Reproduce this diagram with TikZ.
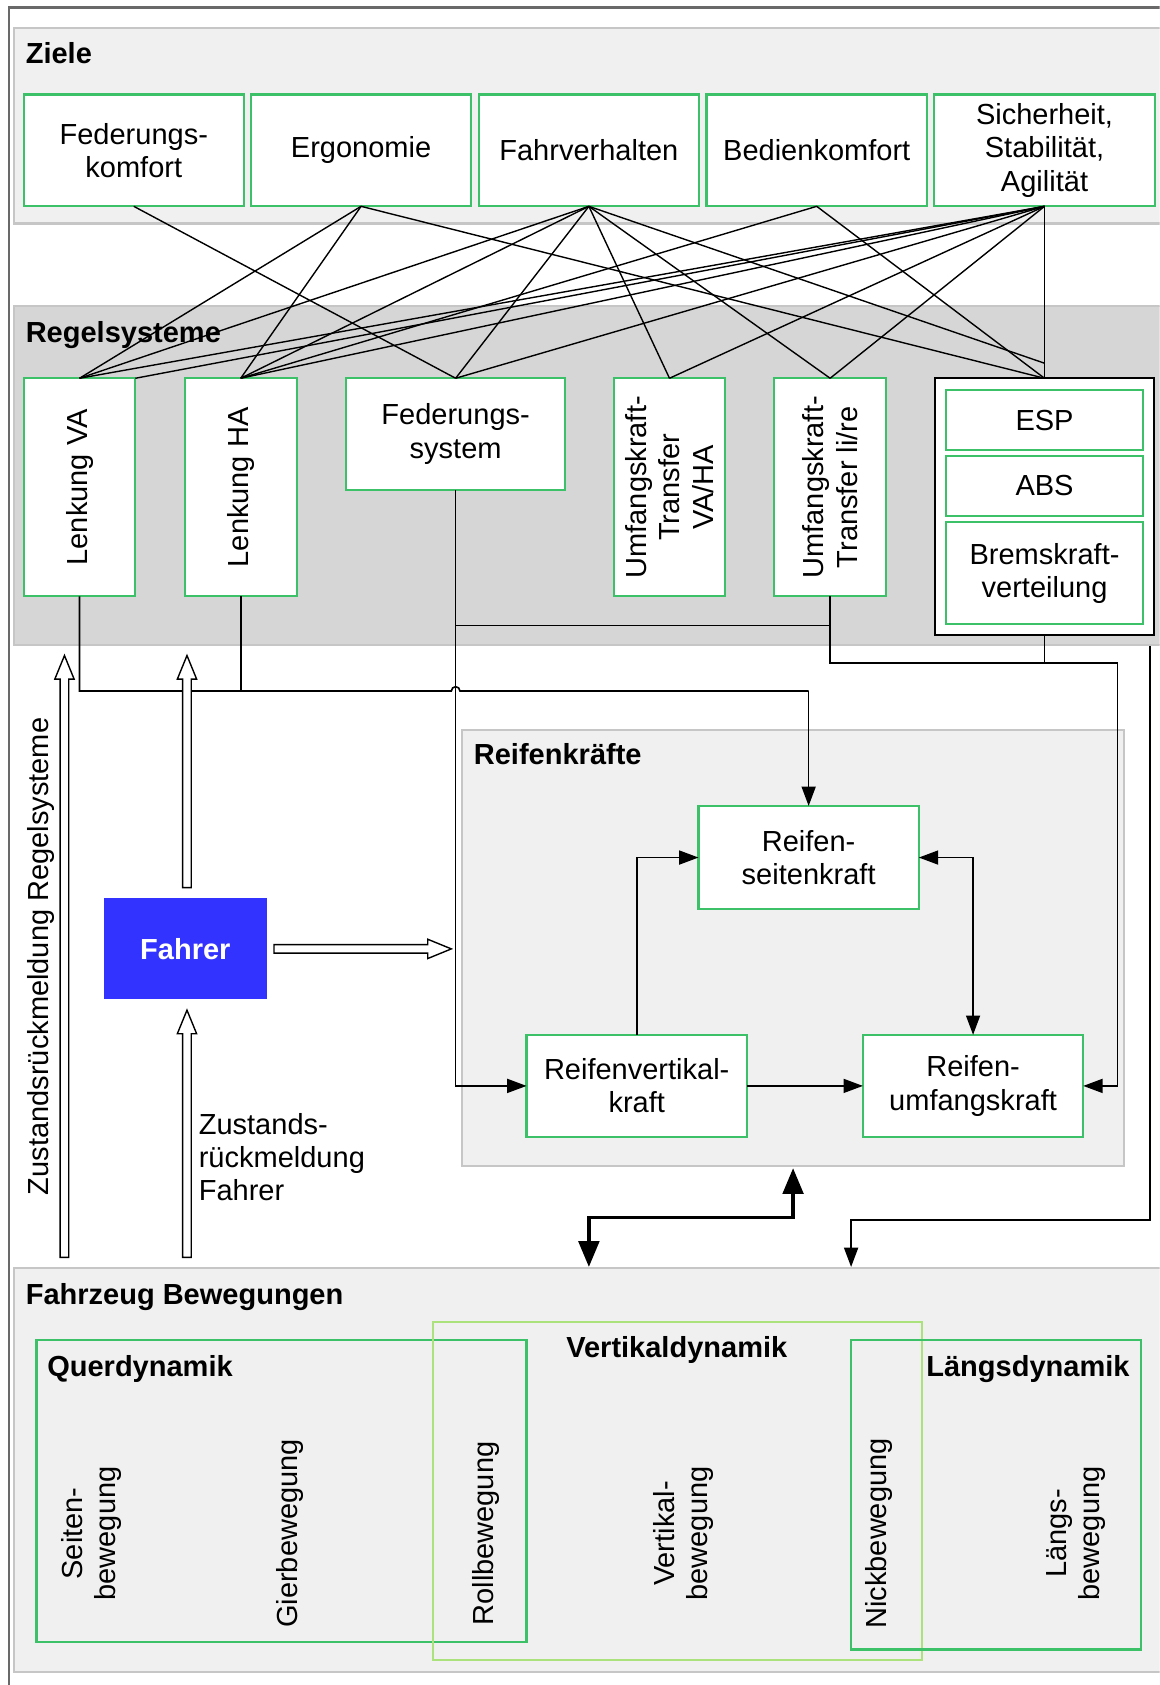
\documentclass[tikz,border=0pt]{standalone}
\usepackage{fontspec}
\setmainfont{Liberation Sans}
\usetikzlibrary{calc,arrows.meta}

\definecolor{boxgreen}{RGB}{60,192,104}
\definecolor{lightgreen}{RGB}{172,226,124}
\definecolor{panelfill}{RGB}{240,240,240}
\definecolor{panelfilldark}{RGB}{214,214,214}
\definecolor{panelline}{RGB}{198,198,198}
\definecolor{framegray}{RGB}{105,105,105}
\definecolor{fahrerblue}{RGB}{51,51,255}

\begin{document}
\begin{tikzpicture}[x=1pt,y=-1pt,
  every node/.style={inner sep=0pt, outer sep=0pt},
  font=\fontsize{27}{31}\selectfont,
  panel/.style={draw=panelline, line width=2pt, fill=panelfill, anchor=north west},
  box/.style={draw=boxgreen, line width=2pt, fill=white, align=center},
  lbl/.style={font=\fontsize{27}{31}\selectfont\bfseries, anchor=base west},
  rot/.style={rotate=90, align=center},
  web/.style={line width=1.3pt, black},
  conn/.style={line width=1.5pt, black},
  arr/.style={conn, -{Triangle[length=18pt,width=13pt]}},
  arrboth/.style={conn, {Triangle[length=18pt,width=13pt]}-{Triangle[length=18pt,width=13pt]}},
  thickarr/.style={line width=3.5pt, {Triangle[length=24pt,width=19pt]}-{Triangle[length=24pt,width=19pt]}},
  hollow/.style={draw=black, line width=1.3pt, fill=white, line join=miter,
    to path={($(\tikztostart)!4pt!90:(\tikztotarget)$)
      -- ($($(\tikztotarget)!22pt!(\tikztostart)$)!4pt!90:(\tikztotarget)$)
      -- ($($(\tikztotarget)!22pt!(\tikztostart)$)!9pt!90:(\tikztotarget)$)
      -- (\tikztotarget)
      -- ($($(\tikztotarget)!22pt!(\tikztostart)$)!9pt!-90:(\tikztotarget)$)
      -- ($($(\tikztotarget)!22pt!(\tikztostart)$)!4pt!-90:(\tikztotarget)$)
      -- ($(\tikztostart)!4pt!-90:(\tikztotarget)$) -- cycle}}
]
\clip (0,0) rectangle (1079,1568);
\fill[white] (0,0) rectangle (1079,1568);

% outer frame (left and top edges)
\draw[framegray, line width=2pt] (8,1575) -- (8,7) -- (1090,7);

% ---------- panels ----------
\node[panel, minimum width=1085pt, minimum height=182pt] (ziele) at (13,26) {};
\node[panel, fill=panelfilldark, minimum width=1085pt, minimum height=315pt] (regs) at (13,285) {};
\node[panel, minimum width=616pt, minimum height=406pt] (rk) at (430,679) {};
\node[panel, minimum width=1085pt, minimum height=376pt] (fb) at (13,1180) {};

\node[lbl] (zieleT) at (24,59) {Ziele};
\node[lbl] (regsT) at (24,319) {Regelsysteme};
\node[lbl] (rkT) at (441,711) {Reifenkräfte};
\node[lbl] (fbT) at (24,1214) {Fahrzeug Bewegungen};

% ---------- goals ----------
\node[box, minimum width=205pt, minimum height=104pt] (g1) at (124.5,140) {Federungs-\\komfort};
\node[box, minimum width=205pt, minimum height=104pt] (g2) at (336,140) {Ergonomie};
\node[box, minimum width=205pt, minimum height=104pt] (g3) at (548,140) {Fahrverhalten};
\node[box, minimum width=205pt, minimum height=104pt] (g4) at (760,140) {Bedienkomfort};
\node[box, minimum width=205pt, minimum height=104pt] (g5) at (972,140) {Sicherheit,\\Stabilität,\\Agilität};

% ---------- control systems ----------
\node[box, minimum width=104pt, minimum height=203pt] (lva) at (74,453.5) {};
\node[rot] (lvaT) at (lva) {Lenkung VA};
\node[box, minimum width=104pt, minimum height=203pt] (lha) at (224,453.5) {};
\node[rot] (lhaT) at (lha) {Lenkung HA};
\node[box, minimum width=204pt, minimum height=104pt] (fs) at (424,404) {Federungs-\\system};
\node[box, minimum width=104pt, minimum height=203pt] (utva) at (623,453.5) {};
\node[rot] (utvaT) at (utva) {Umfangskraft-\\Transfer\\VA/HA};
\node[box, minimum width=104pt, minimum height=203pt] (utli) at (772.5,453.5) {};
\node[rot] (utliT) at (utli) {Umfangskraft-\\Transfer li/re};
\node[box, draw=black, minimum width=204pt, minimum height=239pt] (ct) at (972,471.5) {};
\node[box, minimum width=184pt, minimum height=56pt] (esp) at (972,391) {ESP};
\node[box, minimum width=184pt, minimum height=56pt] (abs) at (972,452) {ABS};
\node[box, minimum width=184pt, minimum height=95pt] (bkv) at (972,533.5) {Bremskraft-\\verteilung};

% ---------- goal / system relations ----------
\coordinate (cv) at (972,338);
\foreach \a/\b in {g1/fs, g2/lva, g2/lha, g2/ct, g3/lva, g3/lha, g3/fs, g3/utva, g3/utli,
                   g4/lha, g4/ct, g5/lva, g5/lha, g5/fs, g5/utva, g5/utli, g5/ct}
  \draw[web] (\a.south) -- (\b.north);
\draw[web] (g3.south) -- (cv);
\draw[web] (g5.south) -- (lva.north east);

% ---------- tyre forces ----------
\node[box, minimum width=205pt, minimum height=96pt] (rs) at (752.5,798) {Reifen-\\seitenkraft};
\node[box, minimum width=205pt, minimum height=95pt] (rv) at (592.5,1010.5) {Reifenvertikal-\\kraft};
\node[box, minimum width=205pt, minimum height=95pt] (ru) at (905.5,1010.5) {Reifen-\\umfangskraft};

\draw[arr] (rv.north) |- (rs.west);
\draw[arrboth] (rs.east) -| (ru.north);
\draw[arr] (rv.east) -- (ru.west);

% ---------- signal lines from the control systems ----------
\coordinate (jl) at (420,643);
\draw[conn] (lva.south) |- (jl) arc[start angle=180, end angle=0, radius=4pt]
  -- (rs.north |- jl);
\draw[arr] (rs.north |- jl) -- (rs.north);
\draw[conn] (lha.south) -- (lha.south |- jl);
\draw[arr] (fs.south) |- (rv.west);
\coordinate (uj) at (772.5,582);
\draw[conn] (utli.south) -- (uj) -- (fs.south |- uj);
\coordinate (rj) at (1040,617);
\draw[arr] (uj) |- (rj) |- (ru.east);
\draw[conn] (ct.south) -- (ct.south |- rj);

% ---------- driver ----------
\node[fill=fahrerblue, minimum width=151pt, minimum height=94pt,
      text=white, font=\fontsize{27}{31}\selectfont\bfseries] (fahrer) at (172.5,883) {Fahrer};

\coordinate (hupB) at (174,826);
\coordinate (hupT) at (174,610);
\coordinate (hdnB) at (174,1170);
\coordinate (hdnT) at (174,940);
\coordinate (hlB) at (60,1170);
\coordinate (hlT) at (60,610);
\coordinate (hrB) at (255,883);
\coordinate (hrT) at (420,883);
\draw[hollow] (hupB) to (hupT);
\draw[hollow] (hdnB) to (hdnT);
\draw[hollow] (hlB) to (hlT);
\draw[hollow] (hrB) to (hrT);

\node[rotate=90] (zrR) at (38,890) {Zustandsrückmeldung Regelsysteme};
\node[anchor=north west, align=left] (zrF) at (185,1036) {Zustands-\\rückmeldung\\Fahrer};

% ---------- links to the vehicle motions ----------
\coordinate (rkb) at (738,1087);
\coordinate (fbt1) at (548,1179);
\draw[thickarr] (rkb) -- (738,1133) -- (548,1133) -- (fbt1);
\coordinate (rsb) at (1070,601);
\coordinate (fbt2) at (792,1179);
\draw[arr, line width=1.8pt] (rsb) -- (1070,1135) -- (792,1135) -- (fbt2);

% ---------- vehicle motions ----------
\draw[boxgreen, line width=2pt] (34,1247) rectangle (490,1528);
\draw[lightgreen, line width=2pt] (403,1230) rectangle (858,1545);
\draw[boxgreen, line width=2pt] (792,1247) rectangle (1062,1535);
\node[lbl] (qdT) at (44,1281) {Querdynamik};
\node[lbl] (vdT) at (527,1263) {Vertikaldynamik};
\node[lbl] (ldT) at (862,1281) {Längsdynamik};

\node[rot] (seiten) at (85,1427) {Seiten-\\bewegung};
\node[rot] (gier) at (270,1427) {Gierbewegung};
\node[rot] (roll) at (452,1427) {Rollbewegung};
\node[rot] (vert) at (636,1427) {Vertikal-\\bewegung};
\node[rot] (nick) at (818,1427) {Nickbewegung};
\node[rot] (laengs) at (1001,1427) {Längs-\\bewegung};
\end{tikzpicture}
\end{document}
